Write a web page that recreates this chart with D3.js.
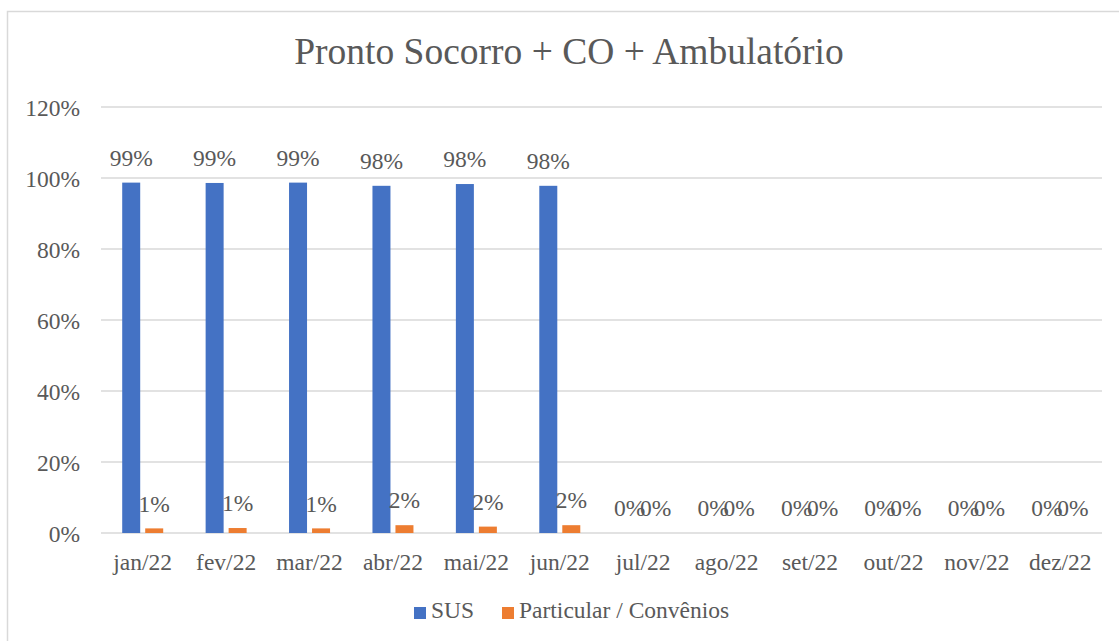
<!DOCTYPE html>
<html>
<head>
<meta charset="utf-8">
<script src="https://cdn.jsdelivr.net/npm/d3@7"></script>
<style>
  body { margin: 0; background: #fff; }
</style>
</head>
<body>
<script>
var months = ["jan/22", "fev/22", "mar/22", "abr/22", "mai/22", "jun/22",
              "jul/22", "ago/22", "set/22", "out/22", "nov/22", "dez/22"];
var sus = [0.987, 0.986, 0.987, 0.978, 0.983, 0.978, 0, 0, 0, 0, 0, 0];
var particular = [0.013, 0.014, 0.013, 0.022, 0.018, 0.022, 0, 0, 0, 0, 0, 0];
var seriesNames = ["SUS", "Particular / Convênios"];
var yTicks = [0, 0.2, 0.4, 0.6, 0.8, 1.0, 1.2];

var width = 1119, height = 641;
var colors = ["#4472C4", "#ED7D31"];
var serif = "Liberation Serif, Times New Roman, serif";
var textColor = "#595959";
var fs = "23.5px";

var svg = d3.select("body").append("svg")
    .attr("width", width)
    .attr("height", height)
    .style("font-family", serif);

// chart border (runs off right / bottom)
svg.append("rect")
    .attr("x", 7.5).attr("y", 11.5)
    .attr("width", 1130).attr("height", 660)
    .attr("fill", "none")
    .attr("stroke", "#d9d9d9")
    .attr("stroke-width", 1.5);

svg.append("text")
    .attr("x", 569).attr("y", 64)
    .attr("text-anchor", "middle")
    .style("font-family", serif)
    .style("font-size", "37.5px")
    .attr("fill", textColor)
    .text("Pronto Socorro + CO + Ambulatório");

var x = d3.scaleBand()
    .domain(months)
    .range([101, 1102]);

var y = d3.scaleLinear()
    .domain([0, 1.2])
    .range([533, 107]);

// gridlines
svg.append("g")
    .selectAll("line")
    .data(yTicks)
    .join("line")
    .attr("x1", 101).attr("x2", 1102)
    .attr("y1", function (d) { return y(d); })
    .attr("y2", function (d) { return y(d); })
    .attr("stroke", "#d9d9d9")
    .attr("stroke-width", 1.5);

// y axis labels
var yAxis = d3.axisLeft(y)
    .tickValues(yTicks)
    .tickFormat(d3.format(".0%"))
    .tickSize(0)
    .tickPadding(0);

svg.append("g")
    .attr("transform", "translate(80,0)")
    .call(yAxis)
    .attr("font-family", null)
    .call(function (g) { g.select(".domain").remove(); })
    .selectAll("text")
    .attr("dy", "0.35em")
    .style("font-family", serif)
    .style("font-size", fs)
    .attr("fill", textColor);

// x axis labels
var xAxis = d3.axisBottom(x).tickSize(0).tickPadding(0);
svg.append("g")
    .attr("transform", "translate(0,562)")
    .call(xAxis)
    .attr("font-family", null)
    .call(function (g) { g.select(".domain").remove(); })
    .selectAll("text")
    .attr("dy", "0.35em")
    .style("font-family", serif)
    .style("font-size", fs)
    .attr("fill", textColor);

var barW = 18, offset = 11.5;
var series = [sus, particular];

series.forEach(function (vals, s) {
    var dx = s === 0 ? -offset : offset;
    // zero labels sit a bit further apart, as in the original
    var nudge = s === 0 ? -2 : 1;
    var g = svg.append("g");
    g.selectAll("rect")
        .data(vals)
        .join("rect")
        .attr("x", function (d, i) { return x(months[i]) + x.bandwidth() / 2 + dx - barW / 2; })
        .attr("y", function (d) { return y(d); })
        .attr("width", barW)
        .attr("height", function (d) { return y(0) - y(d); })
        .attr("fill", colors[s]);
    g.selectAll("text")
        .data(vals)
        .join("text")
        .attr("x", function (d, i) { return x(months[i]) + x.bandwidth() / 2 + dx + (d === 0 ? nudge : 0); })
        .attr("y", function (d) { return y(d) - 25; })
        .attr("dy", "0.35em")
        .attr("text-anchor", "middle")
        .style("font-family", serif)
        .style("font-size", fs)
        .attr("fill", textColor)
        .text(function (d) { return d3.format(".0%")(d); });
});

// legend
var legend = svg.append("g");
var legendX = [414, 502];
seriesNames.forEach(function (name, i) {
    legend.append("rect")
        .attr("x", legendX[i]).attr("y", 607)
        .attr("width", 12).attr("height", 12)
        .attr("fill", colors[i]);
    legend.append("text")
        .attr("x", legendX[i] + 17).attr("y", 610)
        .attr("dy", "0.35em")
        .style("font-family", serif)
        .style("font-size", fs)
        .attr("fill", textColor)
        .text(name);
});
</script>
</body>
</html>
